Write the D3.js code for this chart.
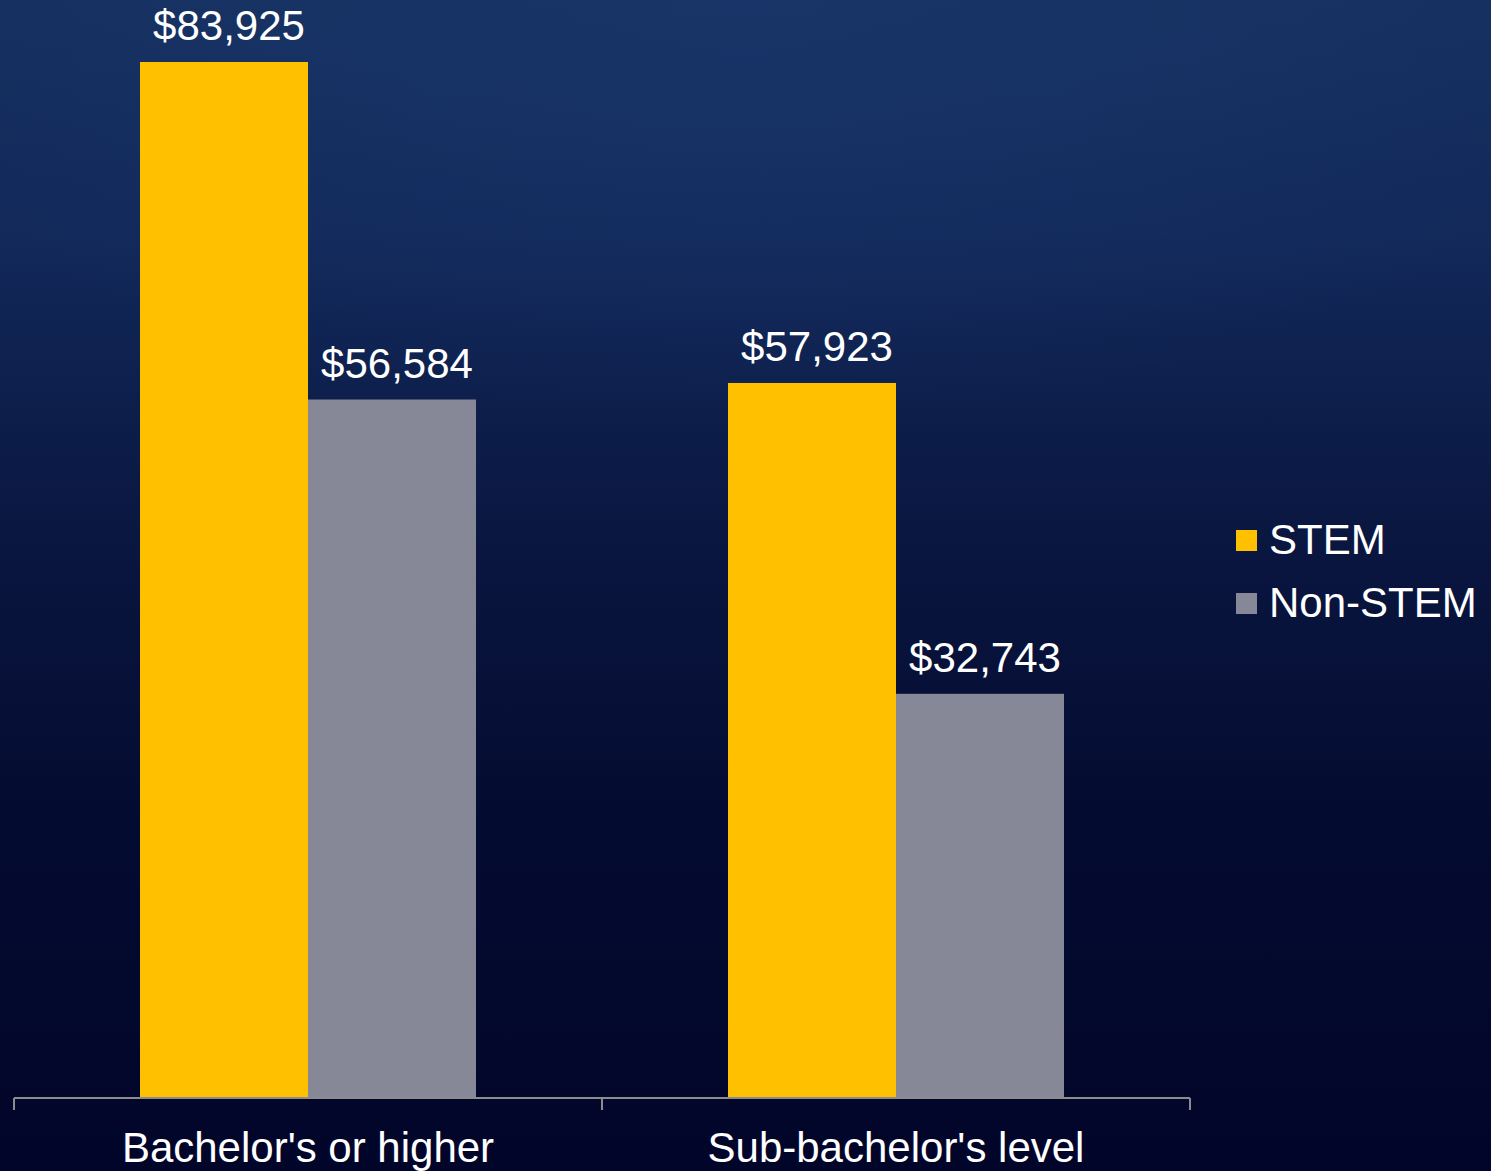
<!DOCTYPE html>
<html>
<head>
<meta charset="utf-8">
<script src="https://cdn.jsdelivr.net/npm/d3@7"></script>
<style>
  html, body { margin: 0; padding: 0; background: #02052a; }
  svg { display: block; }
</style>
</head>
<body>
<svg id="chart" width="1491" height="1171"></svg>
<script>
const categories = ["Bachelor's or higher", "Sub-bachelor's level"];
const seriesNames = ["STEM", "Non-STEM"];
const stemValues = [83925, 57923];
const nonStemValues = [56584, 32743];
const seriesColors = ["#FFC000", "#868897"];

const W = 1491, H = 1171;
const svg = d3.select("#chart");
const font = "'Liberation Sans', Arial, sans-serif";

// background
const defs = svg.append("defs");
const lg = defs.append("linearGradient").attr("id", "bg").attr("x1", 0).attr("y1", 0).attr("x2", 0).attr("y2", 1);
[[0, "#15305f"], [0.2, "#12295a"], [0.45, "#0a1741"], [0.7, "#040b30"], [1, "#02052a"]]
  .forEach(([o, c]) => lg.append("stop").attr("offset", o).attr("stop-color", c));
const rg = defs.append("radialGradient").attr("id", "glow")
  .attr("cx", 0.5).attr("cy", 0).attr("r", 0.6);
rg.append("stop").attr("offset", 0).attr("stop-color", "#1c3a72").attr("stop-opacity", 0.5);
rg.append("stop").attr("offset", 1).attr("stop-color", "#1c3a72").attr("stop-opacity", 0);
svg.append("rect").attr("width", W).attr("height", H).attr("fill", "url(#bg)");
svg.append("rect").attr("width", W).attr("height", H * 0.6).attr("fill", "url(#glow)");

const baseY = 1098;
const x0 = d3.scaleBand().domain(categories).range([14, 1190]).paddingInner(0).paddingOuter(0);
const x1 = d3.scaleBand().domain(seriesNames).range([126, 462]).padding(0);
const y = d3.scaleLinear().domain([0, 90000]).range([baseY, baseY - 1111]);

const data = categories.map((c, i) => ({
  cat: c,
  vals: [
    { s: seriesNames[0], v: stemValues[i], color: seriesColors[0] },
    { s: seriesNames[1], v: nonStemValues[i], color: seriesColors[1] }
  ]
}));

const groups = svg.selectAll("g.grp").data(data).enter().append("g")
  .attr("transform", d => `translate(${x0(d.cat)},0)`);

groups.selectAll("rect").data(d => d.vals).enter().append("rect")
  .attr("x", d => x1(d.s))
  .attr("y", d => y(d.v))
  .attr("width", x1.bandwidth())
  .attr("height", d => y(0) - y(d.v))
  .attr("fill", d => d.color);

const fmt = d3.format("$,");
groups.selectAll("text.val").data(d => d.vals).enter().append("text")
  .attr("class", "val")
  .attr("x", d => x1(d.s) + x1.bandwidth() / 2 + 5)
  .attr("y", d => y(d.v) - 22)
  .attr("text-anchor", "middle")
  .attr("font-family", font)
  .attr("font-size", 42)
  .attr("fill", "#ffffff")
  .text(d => fmt(d.v));

// axis
const axisG = svg.append("g").attr("transform", `translate(0,${baseY})`);
axisG.append("line").attr("x1", 14).attr("x2", 1190).attr("y1", 0).attr("y2", 0)
  .attr("stroke", "#8c8c8c").attr("stroke-width", 2);
const tickXs = categories.map(c => x0(c)).concat([x0.range()[1]]);
axisG.selectAll("line.tick").data(tickXs).enter().append("line")
  .attr("x1", d => d).attr("x2", d => d).attr("y1", 0).attr("y2", 12)
  .attr("stroke", "#8c8c8c").attr("stroke-width", 2);
axisG.selectAll("text").data(categories).enter().append("text")
  .attr("x", d => x0(d) + x0.bandwidth() / 2)
  .attr("y", 64)
  .attr("text-anchor", "middle")
  .attr("font-family", font)
  .attr("font-size", 42)
  .attr("fill", "#ffffff")
  .text(d => d);

// legend
const leg = svg.append("g").attr("transform", "translate(1236,0)");
const legItems = leg.selectAll("g").data(seriesNames).enter().append("g")
  .attr("transform", (d, i) => `translate(0,${530 + i * 63})`);
legItems.append("rect").attr("width", 21).attr("height", 21)
  .attr("fill", (d, i) => seriesColors[i]);
legItems.append("text").attr("x", 33).attr("y", 24)
  .attr("font-family", font).attr("font-size", 42).attr("fill", "#ffffff")
  .text(d => d);
</script>
</body>
</html>
